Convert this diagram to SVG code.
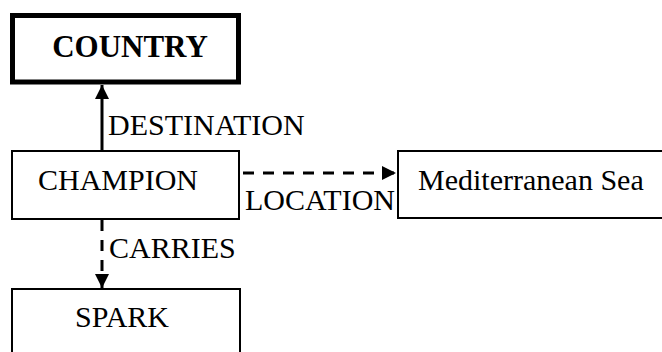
<svg xmlns="http://www.w3.org/2000/svg" width="662" height="352" viewBox="0 0 662 352">
<defs>
<style>
.box{fill:#fff;stroke:#000;stroke-width:2}
.t{font-family:'Times New Roman','Liberation Serif',Tinos,'DejaVu Serif',serif;font-size:30px;fill:#000}
.c{text-anchor:middle}
.edge{stroke:#000;stroke-width:3;fill:none}
.dash{stroke-dasharray:11 9}
</style>
<marker id="ah" viewBox="0 0 10 10" refX="10" refY="5" markerWidth="14" markerHeight="14" markerUnits="userSpaceOnUse" orient="auto">
<path d="M0,0 L10,5 L0,10 z" fill="#000"/>
</marker>
</defs>
<rect width="662" height="352" fill="#fff"/>
<g id="connectors">
<line class="edge" x1="102" y1="151" x2="102" y2="85" marker-end="url(#ah)"/>
<text class="t" x="108" y="135">DESTINATION</text>
<line class="edge dash" x1="243" y1="173" x2="396" y2="173" marker-end="url(#ah)"/>
<text class="t" x="245" y="210">LOCATION</text>
<line class="edge dash" x1="102" y1="220" x2="102" y2="288" marker-end="url(#ah)"/>
<text class="t" x="109" y="258">CARRIES</text>
</g>
<g id="med">
<rect class="box" x="398" y="151" width="270" height="67"/>
<text class="t" x="418" y="190">Mediterranean Sea</text>
</g>
<g id="country">
<rect class="box" x="12.5" y="15.5" width="226" height="66.5" style="stroke-width:5"/>
<text class="t c" x="130" y="57" font-weight="bold" style="font-size:31px">COUNTRY</text>
</g>
<g id="champion">
<rect class="box" x="12" y="151" width="227" height="68"/>
<text class="t c" x="118" y="190">CHAMPION</text>
</g>
<g id="spark">
<rect class="box" x="12" y="289" width="228" height="80"/>
<text class="t c" x="122" y="327">SPARK</text>
</g>
</svg>
